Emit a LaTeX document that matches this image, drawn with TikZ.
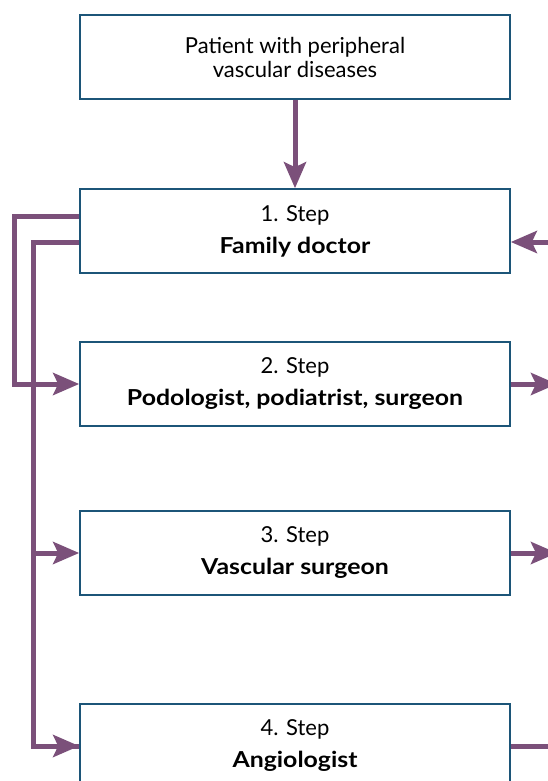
\documentclass[tikz,border=0pt]{standalone}
\usepackage{fontspec}
\setmainfont{Lato}[BoldFeatures={FakeStretch=1.13}]
\usetikzlibrary{arrows.meta}
\definecolor{boxblue}{RGB}{28,85,120}
\definecolor{flowpurple}{RGB}{123,80,122}
\begin{document}
\begin{tikzpicture}[x=1pt,y=-1pt,
  stepbox/.style={draw=boxblue,line width=1.6pt,fill=white,minimum width=430pt,minimum height=84pt,inner sep=0pt,align=center,font=\fontsize{22}{24}\selectfont},
  flow/.style={draw=flowpurple,line width=5pt},
  flowarrow/.style={flow,-{Stealth[length=26pt,width=22pt,inset=5pt]}}]
\useasboundingbox (0,0) rectangle (548,781);
\clip (0,0) rectangle (548,781);
\node[stepbox] (p) at (295,57) {Patient with peripheral\\vascular diseases};
\node[stepbox] (s1) at (295,231) {1. Step\\[8pt]\textbf{Family doctor}};
\node[stepbox] (s2) at (295,384) {2. Step\\[8pt]\textbf{Podologist, podiatrist, surgeon}};
\node[stepbox] (s3) at (295,553) {3. Step\\[8pt]\textbf{Vascular surgeon}};
\node[stepbox] (s4) at (295,746) {4. Step\\[8pt]\textbf{Angiologist}};
\coordinate (r1) at (575,242);
\coordinate (r2) at (557,384);
\coordinate (r3) at (557,553);
\coordinate (r4) at (575,746);
\draw[flowarrow] (p.south) -- (s1.north);
\draw[flowarrow] ([yshift=15pt]s1.west) -- ++(-65,0) |- (s2.west);
\draw[flow] ([yshift=-11pt]s1.west) -- ++(-46,0) |- (s4.west);
\draw[flowarrow] ([yshift=-11pt]s1.west) -- ++(-46,0) |- (s3.west);
\draw[flowarrow] ([yshift=-11pt]s1.west) -- ++(-46,0) |- (s4.west);
\draw[flowarrow] (r1) -- ([yshift=-11pt]s1.east);
\draw[flowarrow] (s2.east) -- (r2);
\draw[flowarrow] (s3.east) -- (r3);
\draw[flowarrow] (s4.east) -- (r4);
\end{tikzpicture}
\end{document}
